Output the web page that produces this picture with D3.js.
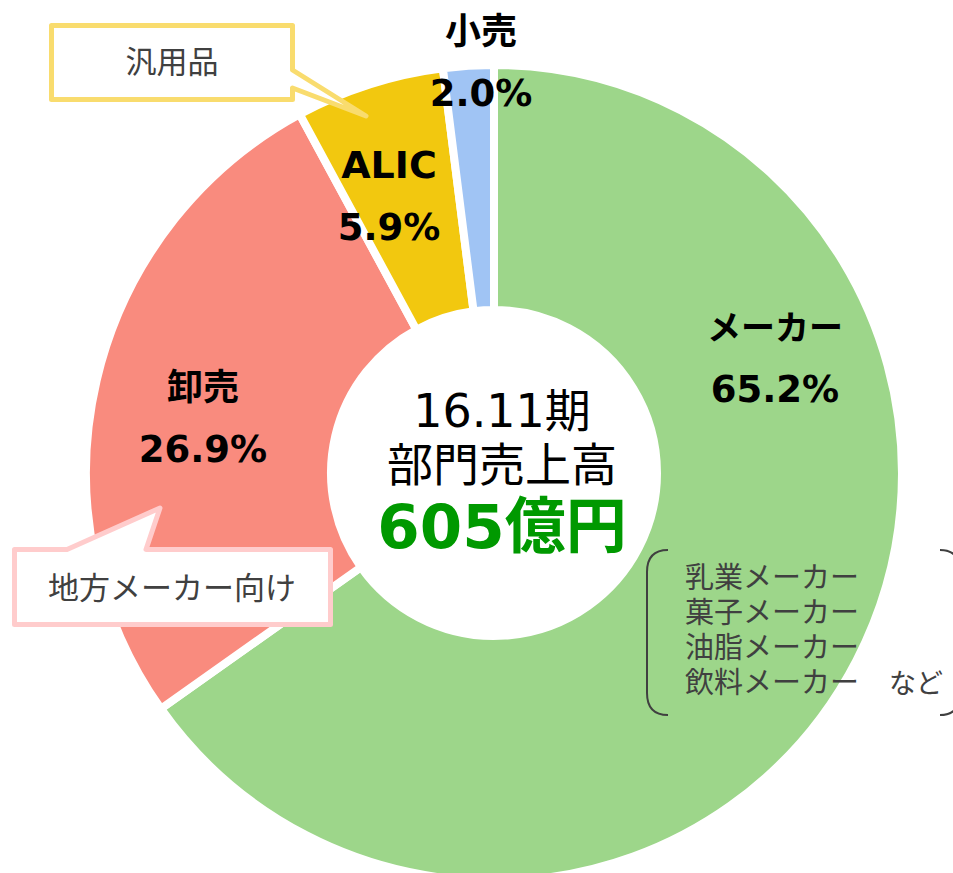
<!DOCTYPE html>
<html>
<head>
<meta charset="utf-8">
<script src="https://cdn.jsdelivr.net/npm/d3@7"></script>
<style>
  body { margin: 0; background: #fff; }
  svg { display: block; }
</style>
</head>
<body>
<svg width="953" height="873"></svg>
<script>
// segment data (clockwise from 12 o'clock)
const categories = ["メーカー", "卸売", "ALIC", "小売"];
const shares = [65.2, 26.9, 5.9, 2.0];
const colors = ["#9DD68A", "#F98B7E", "#F2C80F", "#A0C4F4"];

// centre text
const periodLabel = "16.11期";
const titleLabel = "部門売上高";
const totalValue = "605";
const totalUnit = "億円";

// notes
const makerTypes = ["乳業メーカー", "菓子メーカー", "油脂メーカー", "飲料メーカー"];

const svg = d3.select("svg");
const cx = 494, cy = 473;
const outerR = 408, innerR = 163;

const g = svg.append("g").attr("transform", `translate(${cx},${cy})`);

// pie layout
const pie = d3.pie().sort(null).value(d => d);
const arc = d3.arc().innerRadius(innerR).outerRadius(outerR);

g.selectAll("path.slice")
  .data(pie(shares))
  .enter()
  .append("path")
  .attr("class", "slice")
  .attr("d", arc)
  .attr("fill", (d, i) => colors[i])
  .attr("stroke", "#fff")
  .attr("stroke-width", 8)
  .attr("stroke-linejoin", "miter");

// label placement (offset from centre of name baseline), hand placed like the original
const labelPos = [[281, -133], [-291, -73], [-105, -295], [-13, -429]];
const nameSize = [34, 36, 38, 36];
const labelFont = "'DejaVu Sans', 'Noto Sans CJK JP', sans-serif";

categories.forEach((c, i) => {
  const [lx, ly] = labelPos[i];
  g.append("text")
    .attr("x", lx).attr("y", ly)
    .attr("text-anchor", "middle")
    .style("font-family", labelFont)
    .style("font-weight", "bold")
    .style("font-size", nameSize[i] + "px")
    .text(c);
  g.append("text")
    .attr("x", lx).attr("y", ly + 62)
    .attr("text-anchor", "middle")
    .style("font-family", labelFont)
    .style("font-weight", "bold")
    .style("font-size", "37px")
    .text(d3.format(".1f")(shares[i]) + "%");
});

// centre text
const centre = svg.append("text")
  .attr("text-anchor", "middle")
  .style("font-family", labelFont);
centre.append("tspan")
  .attr("x", cx + 8).attr("y", 427)
  .style("font-size", "46px")
  .text(periodLabel);
centre.append("tspan")
  .attr("x", cx + 8).attr("y", 481)
  .style("font-size", "46px")
  .text(titleLabel);
centre.append("tspan")
  .attr("x", cx + 8).attr("y", 548)
  .style("font-size", "61px")
  .style("font-weight", "bold")
  .attr("fill", "#009900")
  .text(totalValue + totalUnit);

// callout: 汎用品
const noteFont = "'Noto Sans CJK JP', sans-serif";
svg.append("path")
  .attr("d", "M51.5,25.5 H292.5 V70 L366,116 L292.5,88 V99.5 H51.5 Z")
  .attr("fill", "#fff")
  .attr("stroke", "#F9DC6E")
  .attr("stroke-width", 5)
  .attr("stroke-linejoin", "round");
svg.append("text")
  .attr("x", 172).attr("y", 73)
  .attr("text-anchor", "middle")
  .attr("fill", "#404040")
  .style("font-family", noteFont)
  .style("font-size", "31px")
  .text("汎用品");

// callout: 地方メーカー向け
svg.append("path")
  .attr("d", "M14.5,549.5 H67 L160,508 L146,549.5 H330.5 V624.5 H14.5 Z")
  .attr("fill", "#fff")
  .attr("stroke", "#FFCCCC")
  .attr("stroke-width", 5)
  .attr("stroke-linejoin", "round");
svg.append("text")
  .attr("x", 172).attr("y", 599)
  .attr("text-anchor", "middle")
  .attr("fill", "#404040")
  .style("font-family", noteFont)
  .style("font-size", "31px")
  .text("地方メーカー向け");

// bracket list
svg.append("path")
  .attr("d", "M668,550 Q647,550 647,572 V693 Q647,715 668,715")
  .attr("fill", "none").attr("stroke", "#404040").attr("stroke-width", 2);
svg.append("path")
  .attr("d", "M940,550 Q960,550 960,572 V693 Q960,715 940,715")
  .attr("fill", "none").attr("stroke", "#404040").attr("stroke-width", 2);

svg.selectAll("text.maker")
  .data(makerTypes)
  .enter()
  .append("text")
  .attr("class", "maker")
  .attr("x", 685)
  .attr("y", (d, i) => 588 + i * 35)
  .attr("fill", "#404040")
  .style("font-family", noteFont)
  .style("font-size", "29px")
  .text(d => d);
svg.append("text")
  .attr("x", 889).attr("y", 693)
  .attr("fill", "#404040")
  .style("font-family", noteFont)
  .style("font-size", "27px")
  .text("など");
</script>
</body>
</html>
